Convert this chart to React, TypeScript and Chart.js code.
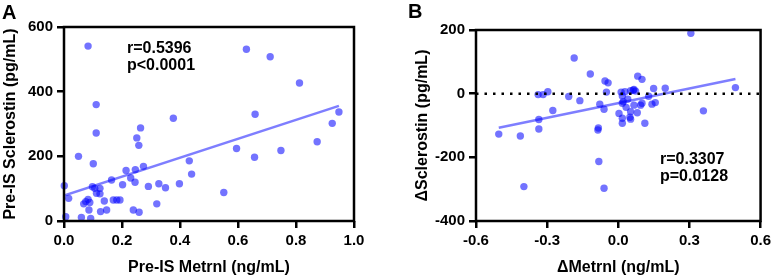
import React, { useEffect, useRef } from "react";
import { Chart, registerables } from "chart.js";

Chart.register(...registerables);

const FONT = "'Liberation Sans', Arial, Helvetica, sans-serif";
const DOT = "rgba(0,0,255,0.55)";
const FIT = "rgba(40,40,255,0.6)";

// ---------- Panel A ----------
const metrnlPre = [
  0.083, 0.629, 0.711, 0.812, 0.111, 0.948, 0.659, 0.377, 0.925, 0.264,
  0.111, 0.251, 0.258, 0.873, 0.595, 0.050, 0.657, 0.748, 0.101, 0.432,
  0.274, 0.440, 0.246, 0.214, 0.164, 0.230, 0.245, 0.202, 0.001, 0.327,
  0.398, 0.291, 0.350, 0.098, 0.106, 0.124, 0.112, 0.124, 0.551, 0.016,
  0.083, 0.139, 0.170, 0.182, 0.193, 0.075, 0.068, 0.089, 0.320, 0.086,
  0.126, 0.147, 0.239, 0.259, 0.006, 0.060, 0.092,
];
const sclerostinPre = [
  541, 531, 508, 427, 360, 337, 330, 318, 302, 288,
  272, 257, 234, 245, 224, 200, 197, 218, 177, 186,
  169, 145, 159, 156, 127, 133, 120, 112, 109, 115,
  115, 107, 103, 106, 101, 101, 86, 84, 88, 70,
  67, 62, 65, 65, 65, 60, 53, 57, 53, 34,
  29, 34, 34, 27, 13, 11, 8,
];
const fitPreX = [0.0, 0.948];
const fitPreY = [79, 356];
const ticksPreX = [0, 0.2, 0.4, 0.6, 0.8, 1.0];
const ticksPreY = [0, 200, 400, 600];
const statsPre = ["r=0.5396", "p<0.0001"];

// ---------- Panel B ----------
const deltaMetrnl = [
  0.306, -0.186, -0.118, -0.056, -0.043, 0.082, 0.100, -0.050, 0.012, 0.052,
  0.066, 0.073, 0.063, 0.149, 0.198, -0.338, -0.317, -0.297, -0.209, -0.162,
  -0.276, -0.335, -0.335, -0.504, -0.413, -0.398, -0.084, -0.086, -0.082, -0.060,
  -0.078, -0.060, 0.017, 0.021, 0.017, 0.040, 0.003, 0.017, 0.017, 0.033,
  0.052, 0.049, 0.052, 0.066, 0.080, 0.094, 0.100, 0.142, 0.156, 0.112,
  0.359, 0.494, 0.128, 0.028,
];
const deltaSclerostin = [
  190, 112, 62, 40, 34, 55, 45, 5, 5, 9,
  13, 8, 11, 16, 17, -3, -3, 6, -9, -22,
  -53, -81, -111, -127, -133, -292, -108, -114, -213, -297,
  -33, -49, -7, -25, -30, -17, -62, -77, -93, -43,
  -57, -74, -80, -36, -60, -36, -30, -33, -28, -93,
  -54, 19, -8, 6,
];
const fitDeltaX = [-0.504, 0.494];
const fitDeltaY = [-107, 46];
const zeroLineX = [-0.6, 0.6];
const zeroLineY = [0, 0];
const ticksDeltaX = [-0.6, -0.3, 0, 0.3, 0.6];
const ticksDeltaY = [-400, -200, 0, 200];
const statsDelta = ["r=0.3307", "p=0.0128"];

const pts = (xs: number[], ys: number[]) => xs.map((x, i) => ({ x, y: ys[i] }));

const framePlugin = {
  id: "frame",
  afterDatasetsDraw(chart: any, _args: any, opts: any) {
    const { ctx, chartArea: a } = chart;
    ctx.save();
    ctx.strokeStyle = "#000";
    ctx.lineWidth = 2.5;
    ctx.strokeRect(a.left, a.top, a.right - a.left, a.bottom - a.top);
    ctx.fillStyle = "#000";
    ctx.font = `bold 16px ${FONT}`;
    ctx.textAlign = "left";
    ctx.textBaseline = "alphabetic";
    (opts.lines || []).forEach((t: string, i: number) => {
      ctx.fillText(t, a.left + opts.dx, a.top + opts.dy + i * 17);
    });
    ctx.restore();
  },
};

type PanelProps = {
  left: number;
  width: number;
  datasets: any[];
  xMin: number;
  xMax: number;
  yMin: number;
  yMax: number;
  xTicks: number[];
  yTicks: number[];
  xDecimals: number;
  xTitle: string;
  yTitle: string;
  yAxisWidth: number;
  padTop: number;
  padRight: number;
  yTitlePad: number;
  stats: string[];
  statsDx: number;
  statsDy: number;
};

function Panel(p: PanelProps) {
  const ref = useRef<HTMLCanvasElement | null>(null);
  useEffect(() => {
    if (!ref.current) return;
    const tickFont = { family: FONT, size: 15, weight: "bold" as const };
    const titleFont = { family: FONT, size: 16, weight: "bold" as const };
    const grid = {
      display: true,
      drawOnChartArea: false,
      drawTicks: true,
      tickLength: 7,
      lineWidth: 2.5,
      color: "#000",
    };
    const chart = new Chart(ref.current, {
      type: "scatter",
      data: { datasets: p.datasets },
      options: {
        responsive: false,
        animation: false,
        devicePixelRatio: 1,
        layout: { padding: { top: p.padTop, right: p.padRight, left: 0, bottom: 0 } },
        plugins: {
          legend: { display: false },
          tooltip: { enabled: false },
          frame: { lines: p.stats, dx: p.statsDx, dy: p.statsDy },
        } as any,
        scales: {
          x: {
            type: "linear",
            min: p.xMin,
            max: p.xMax,
            grid,
            border: { display: false },
            afterBuildTicks: (s: any) => {
              s.ticks = p.xTicks.map((v) => ({ value: v }));
            },
            afterFit: (s: any) => {
              s.height = 56;
            },
            ticks: {
              color: "#000",
              font: tickFont,
              padding: 4,
              maxRotation: 0,
              autoSkip: false,
              callback: (v: any) => Number(v).toFixed(p.xDecimals),
            },
            title: {
              display: true,
              text: p.xTitle,
              color: "#000",
              font: titleFont,
              padding: { top: 0, bottom: 0 },
            },
          },
          y: {
            type: "linear",
            min: p.yMin,
            max: p.yMax,
            grid,
            border: { display: false },
            afterBuildTicks: (s: any) => {
              s.ticks = p.yTicks.map((v) => ({ value: v }));
            },
            afterFit: (s: any) => {
              s.width = p.yAxisWidth;
            },
            ticks: {
              color: "#000",
              font: tickFont,
              padding: 4,
              autoSkip: false,
              callback: (v: any) => String(Math.round(Number(v))),
            },
            title: {
              display: true,
              text: p.yTitle,
              color: "#000",
              font: titleFont,
              padding: { top: p.yTitlePad, bottom: 0 },
            },
          },
        },
      },
      plugins: [framePlugin],
    });
    return () => chart.destroy();
  }, []);
  return (
    <canvas
      ref={ref}
      width={p.width}
      height={277}
      style={{ position: "absolute", left: p.left, top: 0, width: p.width, height: 277 }}
    />
  );
}

export default function App() {
  const dsA = [
    {
      type: "scatter",
      data: pts(metrnlPre, sclerostinPre),
      backgroundColor: DOT,
      borderWidth: 0,
      pointRadius: 3.7,
      clip: false,
    },
    {
      type: "line",
      data: pts(fitPreX, fitPreY),
      borderColor: FIT,
      borderWidth: 2.5,
      pointRadius: 0,
      showLine: true,
      fill: false,
    },
  ];
  const dsB = [
    {
      type: "line",
      data: pts(zeroLineX, zeroLineY),
      borderColor: "#000",
      borderWidth: 2.5,
      borderDash: [2.5, 6],
      pointRadius: 0,
      showLine: true,
      fill: false,
    },
    {
      type: "scatter",
      data: pts(deltaMetrnl, deltaSclerostin),
      backgroundColor: DOT,
      borderWidth: 0,
      pointRadius: 3.7,
      clip: false,
    },
    {
      type: "line",
      data: pts(fitDeltaX, fitDeltaY),
      borderColor: FIT,
      borderWidth: 2.5,
      pointRadius: 0,
      showLine: true,
      fill: false,
    },
  ];
  const letter: React.CSSProperties = {
    position: "absolute",
    top: 1,
    font: `bold 20px ${FONT}`,
    color: "#000",
    lineHeight: "23px",
  };
  return (
    <div
      style={{
        position: "fixed",
        left: 0,
        top: 0,
        width: 775,
        height: 277,
        background: "#fff",
        overflow: "hidden",
      }}
    >
      <Panel
        left={0}
        width={388}
        datasets={dsA}
        xMin={0}
        xMax={1}
        yMin={0}
        yMax={600}
        xTicks={ticksPreX}
        yTicks={ticksPreY}
        xDecimals={1}
        xTitle="Pre-IS Metrnl (ng/mL)"
        yTitle="Pre-IS Sclerostin (pg/mL)"
        yAxisWidth={64}
        padTop={27}
        padRight={34}
        yTitlePad={1.4}
        stats={statsPre}
        statsDx={63}
        statsDy={25.5}
      />
      <Panel
        left={388}
        width={387}
        datasets={dsB}
        xMin={-0.6}
        xMax={0.6}
        yMin={-400}
        yMax={200}
        xTicks={ticksDeltaX}
        yTicks={ticksDeltaY}
        xDecimals={1}
        xTitle="ΔMetrnl (ng/mL)"
        yTitle="ΔSclerostin (pg/mL)"
        yAxisWidth={88}
        padTop={30}
        padRight={12}
        yTitlePad={25.4}
        stats={statsDelta}
        statsDx={184}
        statsDy={134}
      />
      <div style={{ ...letter, left: 2 }}>A</div>
      <div style={{ ...letter, left: 408, top: 0 }}>B</div>
    </div>
  );
}
